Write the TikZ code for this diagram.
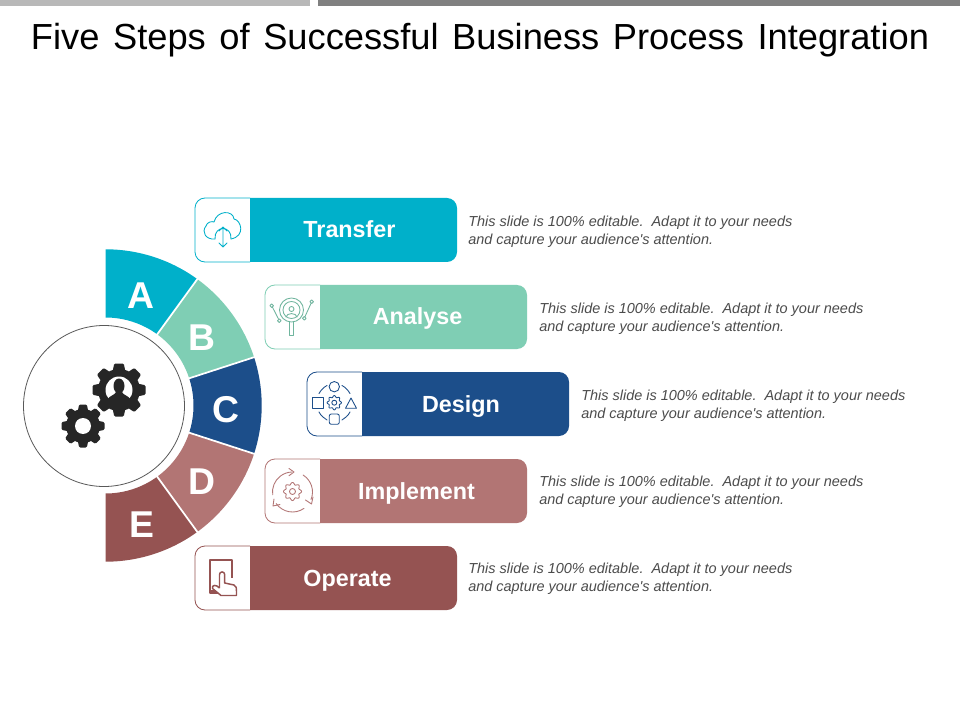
\documentclass[tikz,border=0pt]{standalone}
\usepackage{fontspec}
\setmainfont{Liberation Sans}
\newfontfamily\descfont{Liberation Sans}
\definecolor{cA}{HTML}{00B0CA}
\definecolor{cB}{HTML}{7FCEB4}
\definecolor{cC}{HTML}{1C4E8A}
\definecolor{cD}{HTML}{B27574}
\definecolor{cE}{HTML}{955352}
\definecolor{gearc}{HTML}{262626}
\newcommand{\seg}[3]{%
  \fill[#3] (105.5,405.5) ++(#1:88) -- ++(#1:68.2) arc[start angle=#1,end angle=#2,radius=156.2] -- ++(#2:-68.2) arc[start angle=#2,end angle=#1,radius=88] -- cycle;
}
\newcommand{\segline}[1]{%
  \draw[white,line width=1.3pt] (105.5,405.5) ++(#1:86) -- ++(#1:73);
}
\newcommand{\gearpath}[4]{%
  \fill[gearc] (#1,#2) circle[radius=#4];
  \foreach \a in {0,45,...,315}{
    \fill[gearc,rounded corners=0.9pt,shift={(#1,#2)},rotate=\a]
      (-0.24*#3,0.7*#3) -- (-0.18*#3,#3) -- (0.18*#3,#3) -- (0.24*#3,0.7*#3) -- cycle;
  }
}
\newcommand{\thingear}[4]{%
  \draw[shift={(#1,#2)}] plot[domain=0:360,samples=65,smooth] (\x:{#3+#4*cos(8*\x)}) -- cycle;
}
\tikzset{
  x=0.75pt,y=-0.75pt,
  barlabel/.style={text=white,font=\fontsize{17.5}{20}\selectfont\bfseries,anchor=base,inner sep=0pt},
  letterlabel/.style={text=white,font=\fontsize{28}{30}\selectfont\bfseries,anchor=base,inner sep=0pt},
  desc/.style={text=black!70,font=\descfont\fontsize{10.85}{13.6}\selectfont\itshape,anchor=north west,align=left,inner sep=0pt},
  ticon/.style={line width=0.65pt,line cap=round,line join=round},
}
\newcommand{\stepbar}[6]{%
  \fill[#4] (#2+55,#3) [rounded corners=7.5pt] -- (#2+262,#3) -- (#2+262,#3+64) [sharp corners] -- (#2+55,#3+64) -- cycle;
  \draw[#4,line width=0.6pt,rounded corners=7.5pt] (#2+55,#3) -- (#2,#3) -- (#2,#3+64) -- (#2+55,#3+64);
  \node[barlabel] (#1) at (#6,#3+40) {#5};
}
\newcommand{\stepdesc}[3]{%
  \node[desc] (#1) at (#2,#3) {This slide is 100\% editable.\ \ Adapt it to your needs\\and capture your audience's attention.};
}
\begin{document}
\begin{tikzpicture}
\useasboundingbox (0,0) rectangle (960,720);
\fill[white] (0,0) rectangle (960,720);
\fill[black!28] (0,0) rectangle (310,6);
\fill[black!50] (318,0) rectangle (960,6);
\node[font=\fontsize{27.2}{32}\selectfont,anchor=base,inner sep=0] (title) at (480,50) {\spaceskip=10.2pt Five Steps of Successful Business Process Integration};

% ring
\seg{-90}{-54}{cA}
\seg{-54}{-18}{cB}
\seg{-18}{18}{cC}
\seg{18}{54}{cD}
\seg{54}{90}{cE}
\segline{-54}\segline{-18}\segline{18}\segline{54}
\node[letterlabel] (la) at (141,308) {A};
\node[letterlabel] (lb) at (202,350) {B};
\node[letterlabel] (lc) at (226,422) {C};
\node[letterlabel] (ld) at (202,494) {D};
\node[letterlabel] (le) at (141.5,537) {E};
\draw[black!65,line width=0.6pt,fill=white] (104,406) circle[radius=80.5];

% gears
\gearpath{119}{390}{26.5}{21}
\gearpath{83}{426}{21.5}{17}
\fill[white] (83,426) circle[radius=8];
\fill[white] (119,390) circle[radius=13.5];
\fill[gearc] (119,386) ellipse[x radius=5.5,y radius=7.5];
\fill[gearc] (107,399.5) .. controls (110,395.5) and (115,395) .. (116,392) -- (122,392) .. controls (123,395) and (128,395.5) .. (131,399.5) -- (119,408) -- cycle;

% bars
\stepbar{sa}{195}{198}{cA}{Transfer}{349.5}
\stepbar{sb}{265}{285}{cB}{Analyse}{417.5}
\stepbar{sc}{307}{372}{cC}{Design}{461}
\stepbar{sd}{265}{459}{cD}{Implement}{416.5}
\stepbar{se}{195}{546}{cE}{Operate}{347.5}
\stepdesc{da}{468}{216}
\stepdesc{db}{539}{303}
\stepdesc{dc}{581}{390}
\stepdesc{dd}{539}{476}
\stepdesc{de}{468}{563}

% icon: cloud
\begin{scope}[cA,ticon]
\draw (215,239) .. controls (206,240) and (201,232) .. (206,226) .. controls (207,222) and (212,221) .. (214,222) .. controls (217,210) and (233,210) .. (234,219) .. controls (241,220) and (246,236) .. (231,239);
\draw (215,239) .. controls (214,225) and (232,225) .. (231,239);
\draw (223,227) -- (223,247) (219,231) -- (223,227) -- (227,231) (219,243) -- (223,247) -- (227,243);
\end{scope}

% icon: magnifier person
\begin{scope}[cB!88!black,ticon]
\draw (291.5,310) circle[radius=12];
\draw (291.5,310) circle[radius=8.5];
\draw (291.5,309) circle[radius=2.5];
\draw (286,317) .. controls (286.5,312.5) and (296.5,312.5) .. (297,317);
\draw (289.5,322) -- (289.5,335.5) -- (293.5,335.5) -- (293.5,322);
\draw (271.7,305.7) circle[radius=1.8];
\draw (279.3,320.7) circle[radius=1.8];
\draw (311.7,301.7) circle[radius=1.8];
\draw (304.3,318.3) circle[radius=1.8];
\draw (272.5,307.3) -- (278.5,319);
\draw (311,303.4) -- (305,316.6);
\end{scope}

% icon: design
\begin{scope}[cC,ticon]
\draw (334.3,386.7) circle[radius=5.2];
\draw[rounded corners=1.5pt] (329.3,414) rectangle (339.3,424.3);
\draw (312.5,397.7) rectangle (323.3,408.3);
\draw (345.5,408.3) -- (351,398) -- (356.5,408.3) -- cycle;
\draw (334.3,402.7) circle[radius=2.5];
\thingear{334.3}{402.7}{6.3}{0.9}
\draw (319,393.5) .. controls (321,390) and (324,387) .. (327,385.5);
\draw (342,385.5) .. controls (345,387) and (348,390) .. (350,393.5);
\draw (319,412) .. controls (321,416) and (324,418) .. (327,420);
\draw (342,420) .. controls (345,418) and (348,416) .. (350,412);
\end{scope}

% icon: implement
\begin{scope}[cD,ticon]
\draw (292.5,491.5) circle[radius=3];
\thingear{292.5}{491.5}{8}{1.1}
\draw (292.5,492) ++(172:20) arc[start angle=172,end angle=268,radius=20];
\draw (289,468.5) -- (294,472) -- (289,475.7);
\draw (292.5,492) ++(-58:20) arc[start angle=-58,end angle=22,radius=20];
\draw (305.5,500) -- (311.5,504) -- (313,497);
\draw (292.5,492) ++(55:20) arc[start angle=55,end angle=145,radius=20];
\draw (274,499) -- (273,506) -- (280,504.5);
\end{scope}

% icon: tablet and hand
\begin{scope}[cE]
\draw[line width=1.5pt,line join=round] (218,592.5) -- (209.5,592.5) -- (209.5,559.5) -- (231.5,559.5) -- (231.5,578);
\fill (209.5,589.5) rectangle (218,594);
\draw[line width=1.1pt,line join=round,fill=white] (219.5,588) -- (219.5,574.5) arc[start angle=180,end angle=360,radius=2.6] -- (224.7,583) -- (234,585) .. controls (236.5,585.5) and (236.5,589) .. (236.5,591) -- (236.5,595.5) -- (221,595.5) -- (212.5,588.5) .. controls (211.5,585) and (216,584) .. (219.5,588);
\end{scope}
\end{tikzpicture}
\end{document}
